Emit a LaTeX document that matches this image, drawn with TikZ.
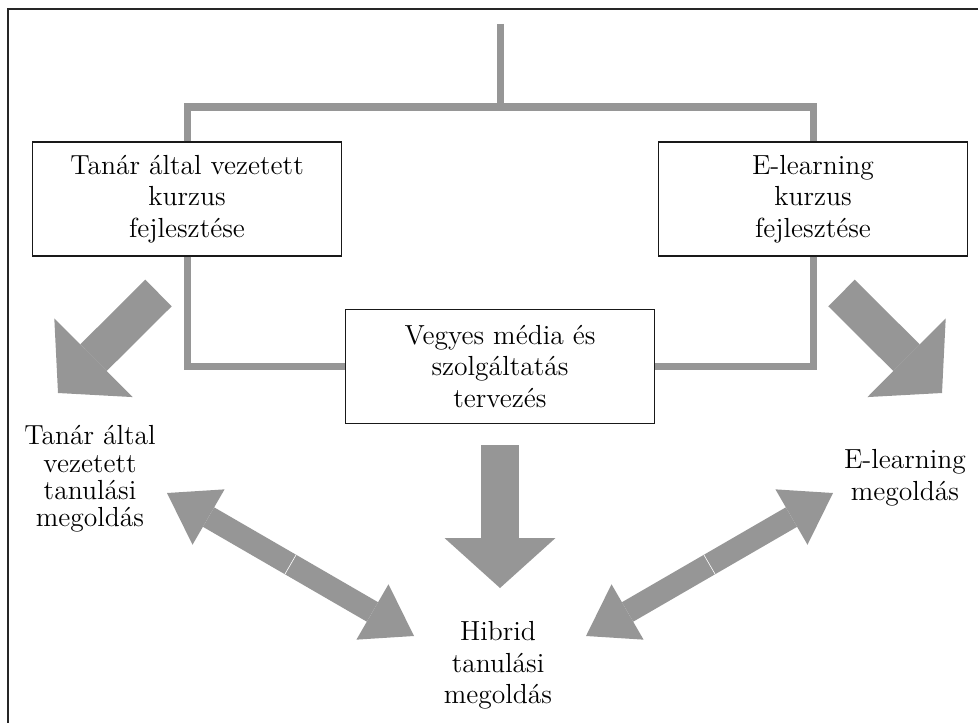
\documentclass[tikz,border=0pt]{standalone}
\usepackage{tikz}
\usetikzlibrary{arrows.meta,calc}
\definecolor{arrowgray}{RGB}{150,150,150}
\newcommand{\lblfont}{\fontsize{13.8pt}{15.75pt}\selectfont}

\begin{document}
\begin{tikzpicture}[x=0.5pt, y=-0.5pt,
  box/.style={draw=black!90, line width=0.6pt, minimum width=154.5pt, minimum height=57pt, inner sep=0pt, align=center, font=\lblfont},
  lbl/.style={inner sep=0pt, align=center, font=\lblfont},
  conn/.style={draw=arrowgray, line width=3.5pt},
  fatarrow/.style={draw=arrowgray, line width=18.75pt, -{Triangle[width=55.5pt, length=25pt, line width=0pt]}},
  slimarrow/.style={draw=arrowgray, line width=11.25pt, -{Triangle[width=32pt, length=24pt, line width=0pt]}}]
\useasboundingbox (0,0) rectangle (978,722);
\draw[line width=0.75pt, black!85] (8,9) rectangle (1000,750);

\node[box] (tanbox) at (187,199) {Tanár által vezetett\\kurzus\\fejlesztése};
\node[box] (elbox) at (813,199) {E-learning\\kurzus\\fejlesztése};
\node[box] (vegbox) at (500,366.5) {Vegyes média és\\szolgáltatás\\tervezés};

\node[lbl, font=\fontsize{13.8pt}{13.7pt}\selectfont] (tansol) at (90,479) {Tanár által\\vezetett\\tanulási\\megoldás};
\node[lbl] (elsol) at (905,477.5) {E-learning\\megoldás};
\node[lbl] (hybsol) at (498,665.5) {Hibrid\\tanulási\\megoldás};

\coordinate (root) at (500,24);
\coordinate (fork) at (500,107);
\draw[conn] (root) -- (fork);
\draw[conn] (tanbox.north) |- (fork) -| (elbox.north);
\draw[conn] (tanbox.south) |- (vegbox.west);
\draw[conn] (elbox.south) |- (vegbox.east);

\coordinate (tanfrom) at (158.5,293);
\coordinate (tanto) at (58,393);
\coordinate (elfrom) at (841.5,293);
\coordinate (elto) at (942,393);
\coordinate (vegfrom) at (500,445);
\coordinate (vegto) at (500,588);
\draw[fatarrow] (tanfrom) -- (tanto);
\draw[fatarrow] (elfrom) -- (elto);
\draw[fatarrow] (vegfrom) -- (vegto);

\coordinate (leftmid) at (290.5,564.5);
\coordinate (lefttan) at (167,493);
\coordinate (lefthyb) at (414,636);
\coordinate (rightmid) at (709.5,564.5);
\coordinate (rightel) at (833,493);
\coordinate (righthyb) at (586,636);
\draw[slimarrow] (leftmid) -- (lefttan);
\draw[slimarrow] (leftmid) -- (lefthyb);
\draw[slimarrow] (rightmid) -- (rightel);
\draw[slimarrow] (rightmid) -- (righthyb);
\draw[white, line width=0.3pt] ($(leftmid)!5.6pt!90:(lefthyb)$) -- ($(leftmid)!5.6pt!-90:(lefthyb)$);
\draw[white, line width=0.3pt] ($(rightmid)!5.6pt!90:(rightel)$) -- ($(rightmid)!5.6pt!-90:(rightel)$);
\end{tikzpicture}
\end{document}
